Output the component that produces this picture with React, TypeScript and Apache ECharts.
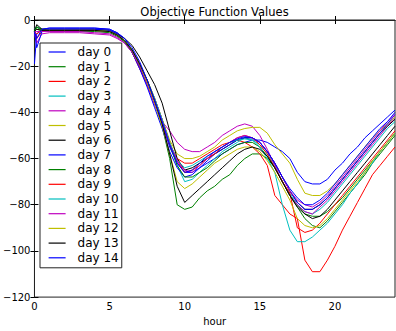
import React, { useEffect, useRef } from "react";
import * as echarts from "echarts";

const hours = [0, 0.15, 0.5, 1, 2, 3, 4, 5, 5.5, 6, 6.5, 7, 7.5, 8, 8.5, 9, 9.5, 10, 10.5, 11, 11.5, 12, 12.5, 13, 13.5, 14, 14.5, 15, 15.5, 16, 16.5, 17, 17.5, 18, 18.5, 19, 19.5, 20, 20.5, 21, 21.5, 22, 22.5, 23, 23.5, 24];

const day0 = [-19, -6, -4, -3.5, -3.5, -3.5, -3.5, -4, -5.5, -8, -13, -20, -28, -36, -45, -55, -62, -66, -66, -64, -62, -60, -58, -56, -54, -53, -52, -52, -53, -55, -57, -60, -66, -70, -71, -71, -69, -65, -62, -58, -55, -51, -48, -45, -42, -39];
const day1 = [-5, -3, -4, -4.5, -4.5, -4.5, -4.5, -5, -6.5, -9, -14, -20, -27, -36, -46, -60, -80, -82, -81, -77, -74, -72, -69, -67, -63, -60, -58, -58, -60, -64, -70, -76, -80, -84, -85, -85, -83, -80, -77, -73, -69, -65, -61, -57, -53, -49];
const day2 = [-5, -8, -5, -4.5, -4.5, -4.5, -4.5, -5, -6, -9, -14, -21, -28, -36, -45, -54, -60, -62, -62, -60, -58, -56, -54, -53, -52, -53, -55, -58, -63, -76, -80, -84, -86, -104, -109, -109, -104, -98, -91, -85, -79, -73, -67, -63, -59, -55];
const day3 = [-4, -3, -4.5, -4.5, -4.5, -4.5, -4.5, -5, -6.5, -9, -13, -19, -26, -34, -43, -53, -63, -70, -69, -66, -63, -60, -57, -55, -53, -51, -52, -54, -58, -63, -70, -75, -80, -83, -84, -82, -79, -75, -71, -67, -63, -59, -55, -51, -47, -44];
const day4 = [-6, -10, -6, -5.5, -5.5, -5.5, -6, -6.5, -8, -10, -14, -21, -28, -37, -44, -48, -53, -56, -57, -57, -55, -53, -50, -48, -46, -45, -46, -50, -56, -63, -70, -76, -80, -83, -84, -81, -78, -74, -70, -66, -62, -58, -54, -50, -46, -42];
const day5 = [-5, -4, -4.5, -4.5, -4.5, -4.5, -4.5, -5, -6.5, -9, -13, -19, -26, -34, -43, -52, -58, -60, -60, -59, -57, -55, -52, -50, -48, -47, -46.5, -46.5, -49, -54, -58, -62, -69, -75, -76, -76, -74, -71, -67, -63, -59, -55, -51, -48, -45, -42];
const day6 = [-5, -2, -4, -4, -4, -4, -4, -4.5, -6, -8, -11, -16, -22, -28, -36, -48, -60, -65, -64, -62, -60, -58, -56, -54, -52, -51, -51, -53, -57, -62, -68, -74, -79, -82, -82, -80, -77, -73, -69, -65, -61, -57, -53, -49, -46, -43];
const day7 = [-5, -12, -5, -4, -4, -4, -4, -4.5, -6, -9, -14, -21, -29, -38, -47, -57, -64, -68, -67, -64, -61, -58, -56, -54, -52, -51, -51, -53, -57, -62, -68, -74, -79, -82, -82, -80, -77, -73, -69, -65, -61, -57, -53, -49, -45, -41];
const day8 = [-5, -3, -4.5, -5, -5, -5, -5, -5.5, -7, -9.5, -14, -20, -27, -35, -44, -54, -63, -68, -68, -66, -64, -61, -58, -56, -54, -53, -53, -55, -59, -64, -70, -76, -81, -86, -89, -90, -87, -83, -79, -75, -71, -67, -62, -58, -54, -50];
const day9 = [-5, -6, -4.5, -4.5, -4.5, -4.5, -4.5, -5, -6.5, -9, -13, -19, -26, -34, -43, -53, -61, -66, -65, -63, -60, -58, -55, -53, -51, -50, -51, -54, -58, -64, -70, -75, -90, -92, -91, -88, -84, -80, -76, -72, -68, -64, -60, -56, -52, -48];
const day10 = [-5, -4, -4.5, -4.5, -4.5, -4.5, -4.5, -5, -6.5, -9, -13, -19, -26, -34, -43, -53, -61, -64, -63, -61, -59, -57, -55, -53, -52, -51.5, -52, -55, -60, -66, -80, -91, -96, -96, -94, -91, -88, -84, -80, -75, -71, -66, -62, -57, -53, -49];
const day11 = [-5, -5, -5, -5, -5, -5, -5.5, -6, -7.5, -10, -14, -20, -27, -35, -44, -54, -61, -65, -66, -63, -60, -57, -55, -53, -51, -50, -51, -53, -57, -62, -68, -74, -78, -80, -81, -79, -76, -72, -68, -64, -60, -56, -52, -48, -44, -41];
const day12 = [-5, -4, -4.5, -4.5, -4.5, -4.5, -4.5, -5, -6.5, -9, -13, -19, -27, -36, -46, -58, -70, -73, -71, -68, -65, -62, -60, -58, -56, -55, -55, -57, -61, -66, -72, -78, -86, -89, -90, -89, -86, -82, -78, -74, -70, -66, -61, -57, -53, -49];
const day13 = [-5, -4, -4.5, -4.5, -4.5, -4.5, -4.5, -5, -6.5, -9, -13, -19, -26, -35, -45, -58, -72, -79, -76, -73, -70, -67, -64, -61, -58, -56, -55, -56, -59, -64, -70, -76, -81, -84, -86, -85, -82, -78, -74, -70, -66, -62, -58, -54, -50, -46];
const day14 = [-5, -8, -4, -3.5, -3.5, -3.5, -3.5, -4, -5.5, -8, -12, -18, -26, -35, -44, -54, -62, -66, -65, -62, -59, -57, -55, -53, -51.5, -50.5, -51, -53, -57, -62, -68, -73, -77, -80, -80, -78, -75, -71, -67, -63, -59, -55, -51, -47, -44, -40];

const seriesNames = ["day 0", "day 1", "day 2", "day 3", "day 4", "day 5", "day 6", "day 7", "day 8", "day 9", "day 10", "day 11", "day 12", "day 13", "day 14"];
const seriesValues = [day0, day1, day2, day3, day4, day5, day6, day7, day8, day9, day10, day11, day12, day13, day14];
const palette = ["#0000ff", "#008000", "#ff0000", "#00bfbf", "#bf00bf", "#bfbf00", "#000000"];

const xTicks = [0, 5, 10, 15, 20];
const yTicks = [-120, -100, -80, -60, -40, -20, 0];

const FONT = "DejaVu Sans";

export default function App() {
  const ref = useRef<HTMLDivElement>(null);
  useEffect(() => {
    if (!ref.current) return;
    const chart = echarts.init(ref.current, null, { renderer: "svg" });
    const minus = (v: number) => String(v).replace("-", "\u2212");
    const tickStyle = { show: true, inside: true, length: 4, lineStyle: { color: "#000", width: 1 } };
    chart.setOption({
      animation: false,
      backgroundColor: "#fff",
      textStyle: { fontFamily: FONT },
      grid: { left: 34, right: 1, top: 20, bottom: 28, show: true, borderColor: "#222", borderWidth: 1, backgroundColor: "transparent" },
      graphic: [
        { type: "text", x: 214.5, y: 12, style: { text: "Objective Function Values", fontFamily: FONT, fontSize: 11.5, fill: "#000", textAlign: "center", textVerticalAlign: "middle" } },
      ],
      legend: {
        orient: "vertical",
        left: 40,
        top: 43,
        data: seriesNames,
        itemWidth: 17,
        itemHeight: 14,
        itemGap: 2.7,
        padding: [3, 3, 4, 8],
        backgroundColor: "#fff",
        borderColor: "#222",
        borderWidth: 1,
        borderRadius: 0,
        itemStyle: { opacity: 0 },
        lineStyle: { width: 1.2 },
        textStyle: { fontFamily: FONT, fontSize: 12, color: "#000", padding: [0, 0, 0, 7] },
      },
      xAxis: [
        {
          type: "value", min: 0, max: 24, interval: 5,
          axisLine: { show: true, lineStyle: { color: "#222" } },
          axisTick: { ...tickStyle, customValues: xTicks },
          axisLabel: { customValues: xTicks, fontFamily: FONT, fontSize: 10, color: "#000", margin: 4 },
          splitLine: { show: false },
          name: "hour", nameLocation: "middle", nameGap: 15,
          nameTextStyle: { fontFamily: FONT, fontSize: 10, color: "#000" },
        },
        {
          type: "value", min: 0, max: 24, interval: 5, position: "top",
          axisLine: { show: true, lineStyle: { color: "#222" } },
          axisTick: { ...tickStyle, customValues: xTicks },
          axisLabel: { show: false },
          splitLine: { show: false },
        },
      ],
      yAxis: [
        {
          type: "value", min: -120, max: 0, interval: 20,
          axisLine: { show: true, lineStyle: { color: "#222" } },
          axisTick: { ...tickStyle, customValues: yTicks },
          axisLabel: { customValues: yTicks, fontFamily: FONT, fontSize: 10, color: "#000", margin: 4, formatter: minus },
          splitLine: { show: false },
        },
        {
          type: "value", min: -120, max: 0, interval: 20, position: "right",
          axisLine: { show: true, lineStyle: { color: "#222" } },
          axisTick: { ...tickStyle, customValues: yTicks },
          axisLabel: { show: false },
          splitLine: { show: false },
        },
      ],
      series: seriesNames.map((name, i) => ({
        name,
        type: "line",
        xAxisIndex: 0,
        yAxisIndex: 0,
        symbol: "none",
        data: hours.map((h, j) => [h, seriesValues[i][j]]),
        lineStyle: { width: 1, color: palette[i % palette.length] },
        itemStyle: { color: palette[i % palette.length] },
        z: 2,
      })),
    });
    return () => chart.dispose();
  }, []);
  return <div ref={ref} style={{ position: "fixed", left: 0, top: 0, width: 396, height: 331 }} />;
}
